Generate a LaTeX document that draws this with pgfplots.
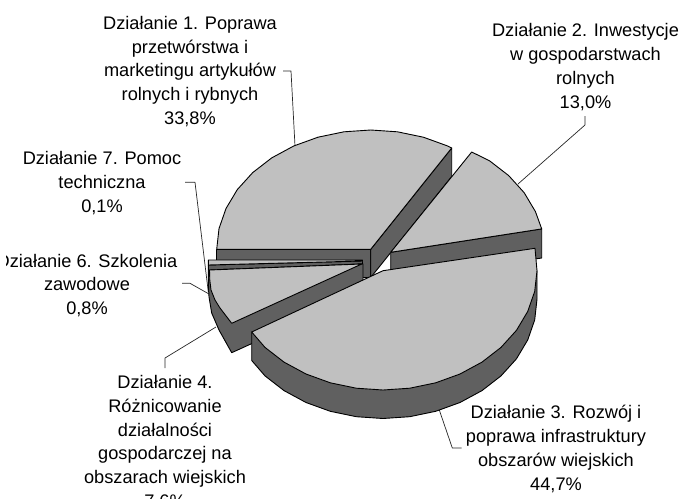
\documentclass[border=0pt]{standalone}
\usepackage{pgfplots}
\pgfplotsset{compat=1.18}
\usepackage{fontspec}
\setmainfont{Liberation Sans}
\definecolor{topc}{HTML}{C0C0C0}
\definecolor{wallc}{HTML}{606060}
\tikzset{lab/.style={align=center,font=\fontsize{18.2}{23.8}\selectfont,inner sep=0pt,text=black}}
\begin{document}
\begin{tikzpicture}[x=1pt,y=1pt]
\useasboundingbox (0,0) rectangle (680,498);
\clip (6,0) rectangle (680,498);
\begin{axis}[at={(0pt,0pt)},anchor=south west,scale only axis,width=680pt,height=498pt,
  xmin=0,xmax=680,ymin=0,ymax=498,y dir=reverse,hide axis,clip=false,
  every axis plot/.append style={line join=round,line width=0.9pt,draw=black}]
% leaders
\addplot[line width=0.7pt,draw=black!85] coordinates {(283,71) (291,71) (295,146)};
\addplot[line width=0.7pt,draw=black!85] coordinates {(585,116) (585,125) (518,184)};
\addplot[line width=0.7pt,draw=black!85] coordinates {(461.7,448) (452.3,448) (439.3,410)};
\addplot[line width=0.7pt,draw=black!85] coordinates {(165,368) (165,358) (216,327)};
\addplot[line width=0.7pt,draw=black!85] coordinates {(182,283.3) (190,283.3) (209,294)};
\addplot[line width=0.7pt,draw=black!85] coordinates {(185,182.3) (195,182.3) (208.3,292)};
% slice 1
\addplot[fill=wallc] coordinates {(216.7,249.3) (370.7,249.3) (370.7,277.5) (216.7,277.5)} --cycle;
\addplot[fill=wallc] coordinates {(370.7,249.3) (451.7,148) (451.7,176.5) (370.7,277.5)} --cycle;
\addplot[fill=topc] coordinates {(370.7,249.3) (216.7,249.3) (219,228.6) (226,208.5) (237.3,189.6) (252.7,172.6) (271.7,157.9) (293.7,146) (318,137.2) (344,131.8) (370.7,130) (397.4,131.8) (423.4,137.2) (447.7,146) (451.7,148)} --cycle;
% slice 2
\addplot[fill=wallc] coordinates {(390.7,252.3) (541.7,228.9) (541.7,258) (390.7,281)} --cycle;
\addplot[fill=topc] coordinates {(390.7,252.3) (471.7,152) (489.7,160.9) (508.7,175.6) (524.1,192.6) (535.4,211.5) (541.7,228.9)} --cycle;
% slices 7 and 6
\addplot[fill=wallc] coordinates {(208.3,265) (362.5,261) (362.5,264) (208.5,271) (208.5,292)} --cycle;
\addplot[fill=topc] coordinates {(208.3,260) (362.5,260) (362.5,261) (208.3,265)} --cycle;
% slice 4
\addplot[fill=wallc] coordinates {(209,270) (208.5,285) (209,297) (211.7,313) (219,330) (231.7,352.7) (363,293) (363,264)} --cycle;
\addplot[fill=topc] coordinates {(361.7,264) (209.5,270) (209.8,280) (211,290) (215,300) (220,308) (231.7,323.3)} --cycle;
% slice 3
\addplot[fill=wallc] coordinates {(537,270.7) (537,299.2) (534.7,319.9) (527.7,340) (516.4,358.9) (501,375.9) (482,390.6) (460,402.5) (435.7,411.3) (409.7,416.7) (383,418.5) (356.3,416.7) (330.3,411.3) (306,402.5) (284,390.6) (265,375.9) (251.7,360.5) (251.7,332)} --cycle;
\addplot[fill=topc] coordinates {(383,270.7) (535,248.3) (537,270.7) (534.7,291.4) (527.7,311.5) (516.4,330.4) (501,347.4) (482,362.1) (460,374) (435.7,382.8) (409.7,388.2) (383,390) (356.3,388.2) (330.3,382.8) (306,374) (284,362.1) (265,347.4) (251.7,332)} --cycle;
% labels
\node[lab] at (axis cs:190,71.5) {Działanie 1. Poprawa\\przetwórstwa i\\marketingu artykułów\\rolnych i rybnych\\33,8\%};
\node[lab] at (axis cs:585.5,67) {Działanie 2. Inwestycje\\w gospodarstwach\\rolnych\\13,0\%};
\node[lab] at (axis cs:556,449) {Działanie 3. Rozwój i\\poprawa infrastruktury\\obszarów wiejskich\\44,7\%};
\node[lab] at (axis cs:165,442.5) {Działanie 4.\\Różnicowanie\\działalności\\gospodarczej na\\obszarach wiejskich\\7,6\%};
\node[lab] at (axis cs:87,285.5) {Działanie 6. Szkolenia\\zawodowe\\0,8\%};
\node[lab] at (axis cs:102,183) {Działanie 7. Pomoc\\techniczna\\0,1\%};
\end{axis}
\end{tikzpicture}
\end{document}
